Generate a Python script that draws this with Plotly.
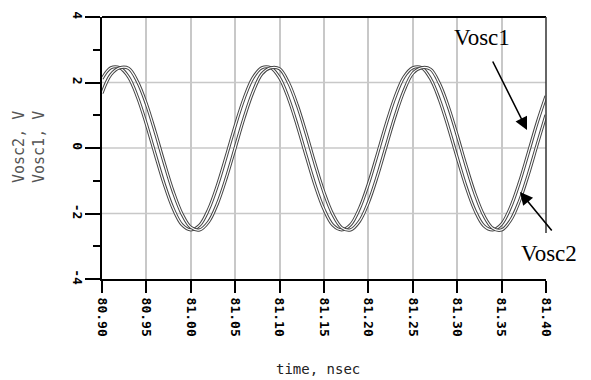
import plotly.graph_objects as go

# time axis samples (ns)
time_ns = [round(80.90 + 0.01 * k, 2) for k in range(51)]

vosc1 = [2.115, 2.45, 2.45, 2.165, 1.550, 0.725, -0.198, -1.095, -1.843, -2.340,
         -2.5, -2.357, -1.874, -1.136, -0.245, 0.681, 1.513, 2.140, 2.45, 2.45,
         2.140, 1.513, 0.680, -0.245, -1.137, -1.874, -2.357, -2.5, -2.340, -1.843,
         -1.095, -0.198, 0.725, 1.551, 2.165, 2.45, 2.45, 2.115, 1.475, 0.635,
         -0.291, -1.178, -1.905, -2.373, -2.5, -2.322, -1.811, -1.053, -0.152, 0.769,
         1.587]

vosc2 = [1.673, 2.242, 2.45, 2.431, 2.025, 1.343, 0.480, -0.449, -1.316, -2.005,
         -2.422, -2.5, -2.256, -1.696, -0.906, 0.008, 0.920, 1.707, 2.263, 2.45,
         2.418, 1.996, 1.303, 0.434, -0.495, -1.357, -2.033, -2.435, -2.5, -2.235,
         -1.661, -0.861, 0.055, 0.964, 1.742, 2.283, 2.45, 2.404, 1.967, 1.262,
         0.387, -0.542, -1.396, -2.061, -2.447, -2.5, -2.212, -1.625, -0.816, 0.103,
         1.008]

x_tickvals = [80.90, 80.95, 81.00, 81.05, 81.10, 81.15, 81.20, 81.25, 81.30, 81.35, 81.40]
x_ticktext = ["80.90", "80.95", "81.00", "81.05", "81.10", "81.15", "81.20", "81.25", "81.30", "81.35", "81.40"]
y_tickvals = [-4, -2, 0, 2, 4]
y_ticktext = ["-4", "-2", "0", "2", "4"]

# plot-area geometry in pixels (for placing annotations)
L, R, T, B = 102, 546, 17, 279
def px_x(px):
    return (px - L) / (R - L)
def px_y(py):
    return (B - py) / (B - T)

fig = go.Figure()
for series in (vosc1, vosc2):
    fig.add_trace(go.Scatter(x=time_ns, y=series, mode="lines",
                             line=dict(color="#454545", width=3.2, shape="spline", smoothing=1.0),
                             showlegend=False, hoverinfo="skip"))
    fig.add_trace(go.Scatter(x=time_ns, y=series, mode="lines",
                             line=dict(color="white", width=1.2, shape="spline", smoothing=1.0),
                             showlegend=False, hoverinfo="skip"))

tickfont = dict(family="DejaVu Sans Mono", size=13, color="black", weight="bold")

fig.update_layout(
    width=591, height=380,
    margin=dict(l=L, r=591 - R, t=T, b=380 - B),
    paper_bgcolor="white", plot_bgcolor="white",
    xaxis=dict(range=[80.90, 81.40], tickvals=x_tickvals, ticktext=x_ticktext,
               tickangle=90, ticks="outside", ticklen=12, tickwidth=2, tickcolor="black",
               showgrid=True, gridcolor="#c8c8c8", gridwidth=1.5,
               showline=True, linecolor="black", linewidth=2, mirror=False,
               zeroline=False, tickfont=tickfont, automargin=False, ticklabelstandoff=2),
    yaxis=dict(range=[-4, 4], tickvals=y_tickvals, ticktext=y_ticktext,
               tickangle=90, ticks="outside", ticklen=15, tickwidth=2, tickcolor="black",
               showgrid=False, showline=True, linecolor="black", linewidth=2,
               zeroline=False, tickfont=tickfont, automargin=False, ticklabelstandoff=-4,
               minor=dict(dtick=1, tick0=-4, ticks="outside", ticklen=7, tickwidth=2,
                          tickcolor="black", showgrid=False)),
)

# y gridlines at -2, 0, 2 only
for gy in [-2, 0, 2]:
    fig.add_shape(type="line", xref="paper", yref="y", x0=0, x1=1, y0=gy, y1=gy,
                  line=dict(color="#c8c8c8", width=1.5), layer="below")

# white box behind Vosc1 label (hides gridlines, not traces)
fig.add_shape(type="rect", xref="paper", yref="paper", x0=px_x(446), x1=px_x(518),
              y0=px_y(60), y1=px_y(19), fillcolor="white", line=dict(width=0), layer="between")

# top and right border (right border interrupted by the Vosc2 label)
fig.add_shape(type="line", xref="paper", yref="paper", x0=0, x1=1, y0=1, y1=1,
              line=dict(color="black", width=2), layer="above")
fig.add_shape(type="line", xref="paper", yref="paper", x0=1, x1=1, y0=px_y(233), y1=1,
              line=dict(color="#333", width=1.5), layer="above")

# axis titles
fig.add_annotation(text="Vosc2, V<br>Vosc1, V", xref="paper", yref="paper",
                   x=px_x(29), y=px_y(147), xanchor="center", yanchor="middle", textangle=-90,
                   showarrow=False, font=dict(family="DejaVu Sans Mono", size=15, color="#555"))
fig.add_annotation(text="time, nsec", xref="paper", yref="paper",
                   x=px_x(318), y=px_y(369), xanchor="center", yanchor="middle",
                   showarrow=False, font=dict(family="DejaVu Sans Mono", size=14, color="#222"))

# labels
fig.add_annotation(text="Vosc1", xref="paper", yref="paper", x=px_x(482), y=px_y(38),
                   xanchor="center", yanchor="middle",
                   showarrow=False, font=dict(family="Liberation Serif", size=23, color="black"))
fig.add_annotation(text="Vosc2", xref="paper", yref="paper", x=px_x(549), y=px_y(253),
                   xanchor="center", yanchor="middle", bgcolor="white", borderpad=1,
                   showarrow=False, font=dict(family="Liberation Serif", size=23, color="black"))
# arrows
fig.add_annotation(x=81.3786, y=0.55, xref="x", yref="y", text="", showarrow=True,
                   ax=-35, ay=-70, arrowhead=2, arrowsize=1.6, arrowwidth=1.6, arrowcolor="black", standoff=0)
fig.add_annotation(x=81.3707, y=-1.34, xref="x", yref="y", text="", showarrow=True,
                   ax=33, ay=40, arrowhead=2, arrowsize=1.6, arrowwidth=1.6, arrowcolor="black", standoff=0)

fig.write_html("out.html")
